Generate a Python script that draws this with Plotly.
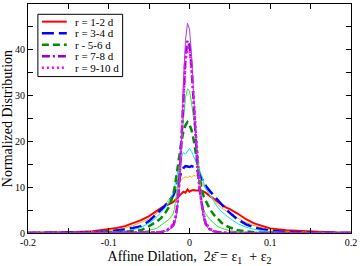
import plotly.graph_objects as go

# shared x grid (affine dilation)
x = [-0.2, -0.18, -0.16, -0.14, -0.12, -0.1, -0.09, -0.08, -0.07, -0.06,
     -0.05, -0.045, -0.04, -0.035, -0.03, -0.025, -0.02, -0.0175, -0.015, -0.0125,
     -0.01, -0.0075, -0.005, -0.0025, 0.0, 0.0025, 0.005, 0.0075, 0.01, 0.0125,
     0.015, 0.0175, 0.02, 0.025, 0.03, 0.035, 0.04, 0.045, 0.05, 0.06,
     0.07, 0.08, 0.09, 0.1, 0.12, 0.14, 0.16, 0.18, 0.2]

r_1_2 = [0.02, 0.05, 0.1, 0.2, 0.4, 0.8, 1.1, 1.5, 2.1, 2.8,
         3.7, 4.3, 5.0, 5.5, 6.0, 6.3, 6.8, 7.3, 7.8, 8.3,
         8.6, 9.0, 8.8, 9.5, 9.0, 9.3, 9.4, 9.3, 9.3, 9.2,
         9.3, 9.0, 8.8, 8.1, 7.4, 6.7, 6.2, 5.6, 5.2, 4.2,
         3.0, 2.1, 1.5, 1.0, 0.6, 0.4, 0.2, 0.1, 0.05]

r_2_3 = [0.0, 0.02, 0.05, 0.1, 0.25, 0.5, 0.75, 1.1, 1.6, 2.3,
         3.1, 3.7, 4.3, 5.0, 6.3, 7.5, 8.6, 9.5, 10.3, 11.0,
         11.6, 12.0, 12.3, 12.1, 12.4, 12.2, 12.6, 12.4, 12.8, 12.0,
         11.2, 10.3, 9.6, 8.4, 7.2, 6.2, 5.4, 4.8, 4.3, 3.2,
         2.3, 1.6, 1.1, 0.7, 0.35, 0.2, 0.1, 0.04, 0.02]

r_3_4 = [0.0, 0.01, 0.03, 0.06, 0.15, 0.35, 0.5, 0.75, 1.1, 1.5,
         2.6, 3.4, 4.4, 5.2, 6.0, 7.0, 8.2, 9.3, 10.6, 12.2,
         13.4, 14.2, 14.6, 14.5, 14.4, 14.6, 14.5, 14.3, 13.6, 12.8,
         11.8, 11.1, 10.3, 9.2, 8.2, 7.1, 6.2, 5.2, 4.4, 2.9,
         1.9, 1.2, 0.8, 0.5, 0.25, 0.12, 0.06, 0.03, 0.01]

r_4_5 = [0.0, 0.0, 0.01, 0.03, 0.08, 0.2, 0.3, 0.45, 0.7, 1.2,
         2.2, 2.8, 3.6, 4.5, 5.5, 7.0, 8.8, 11.0, 13.5, 15.2,
         16.6, 17.6, 17.2, 18.0, 18.5, 17.8, 16.8, 16.0, 14.8, 13.6,
         12.6, 11.0, 9.8, 8.3, 6.8, 5.6, 4.6, 3.8, 3.2, 2.0,
         1.3, 0.8, 0.5, 0.3, 0.12, 0.05, 0.02, 0.01, 0.0]

r_5_6 = [0.0, 0.0, 0.0, 0.01, 0.03, 0.08, 0.12, 0.2, 0.35, 0.6,
         1.5, 2.0, 2.6, 3.3, 4.4, 5.8, 8.5, 10.8, 13.5, 17.0,
         20.0, 22.2, 23.5, 24.2, 23.6, 22.5, 20.5, 17.5, 14.5, 12.0,
         9.6, 8.0, 7.0, 5.3, 4.0, 3.0, 2.2, 1.6, 1.2, 0.6,
         0.3, 0.15, 0.08, 0.04, 0.02, 0.01, 0.0, 0.0, 0.0]

r_6_7 = [0.0, 0.0, 0.0, 0.0, 0.01, 0.02, 0.03, 0.05, 0.1, 0.2,
         0.5, 0.8, 1.1, 1.7, 2.3, 3.0, 4.2, 6.5, 10.0, 15.0,
         21.0, 26.0, 29.5, 31.5, 31.0, 28.5, 25.5, 21.5, 18.0, 12.5,
         7.5, 5.2, 4.2, 3.0, 2.1, 1.4, 1.0, 0.7, 0.5, 0.25,
         0.12, 0.06, 0.03, 0.02, 0.01, 0.0, 0.0, 0.0, 0.0]

r_7_8 = [0.0, 0.0, 0.0, 0.0, 0.0, 0.0, 0.0, 0.01, 0.02, 0.04,
         0.07, 0.1, 0.12, 0.2, 0.4, 0.8, 1.7, 3.0, 6.0, 11.0,
         19.5, 31.0, 38.5, 42.0, 41.0, 36.5, 29.5, 20.5, 14.0, 9.5,
         6.0, 3.6, 2.0, 0.8, 0.35, 0.18, 0.1, 0.05, 0.03, 0.01,
         0.0, 0.0, 0.0, 0.0, 0.0, 0.0, 0.0, 0.0, 0.0]

r_8_9 = [0.0, 0.0, 0.0, 0.0, 0.0, 0.0, 0.0, 0.0, 0.01, 0.02,
         0.05, 0.08, 0.12, 0.2, 0.35, 0.7, 1.5, 2.6, 5.5, 10.5,
         20.0, 33.0, 42.0, 45.8, 44.5, 39.0, 31.0, 21.0, 14.0, 9.0,
         5.5, 3.2, 1.7, 0.7, 0.3, 0.15, 0.08, 0.05, 0.03, 0.01,
         0.0, 0.0, 0.0, 0.0, 0.0, 0.0, 0.0, 0.0, 0.0]

r_9_10 = [0.0, 0.0, 0.0, 0.0, 0.0, 0.0, 0.0, 0.01, 0.02, 0.05,
          0.08, 0.12, 0.15, 0.25, 0.5, 1.0, 2.0, 3.4, 6.5, 11.5,
          19.5, 30.0, 37.5, 40.5, 40.0, 36.0, 29.5, 21.0, 14.5, 10.0,
          6.5, 4.0, 2.3, 1.0, 0.45, 0.22, 0.12, 0.07, 0.04, 0.02,
          0.0, 0.0, 0.0, 0.0, 0.0, 0.0, 0.0, 0.0, 0.0]

x_tickvals = [-0.2, -0.1, 0.0, 0.1, 0.2]
x_ticktext = ["-0.2", "-0.1", "0", "0.1", "0.2"]
y_tickvals = [0, 10, 20, 30, 40, 50]
y_ticktext = ["0", "10", "20", "30", "40", "50"]

series = [
    # (values, name, color, width, dash, in legend)
    (r_1_2, "r = 1-2 d", "#ff0000", 2, "solid", True),
    (r_2_3, "r = 2-3 d", "#ffa500", 1, "solid", False),
    (r_3_4, "r = 3-4 d", "#0000ff", 2.5, "12px,5px", True),
    (r_4_5, "r = 4-5 d", "#00e5ff", 1, "solid", False),
    (r_5_6, "r - 5-6 d", "#008b00", 2.5, "7px,4px", True),
    (r_6_7, "r = 6-7 d", "#22ee22", 1, "solid", False),
    (r_7_8, "r = 7-8 d", "#9400d3", 2.5, "8px,3px,2px,3px", True),
    (r_8_9, "r = 8-9 d", "#a040e0", 1, "solid", False),
    (r_9_10, "r = 9-10 d", "#ff00ff", 2.5, "2px,3px", True),
]

fig = go.Figure()
for vals, name, color, w, dash, leg in series:
    fig.add_trace(go.Scatter(x=x, y=vals, mode="lines", name=name,
                             showlegend=False,
                             line=dict(color=color, width=w, dash=dash)))

# compact boxed legend (Grace style), placed in plot-area (paper) coordinates
leg_box = dict(x0=0.0306, x1=0.293, y0=0.683, y1=0.955)
leg_rows = [0.923, 0.8726, 0.822, 0.7717, 0.7217]
fig.add_shape(type="rect", xref="paper", yref="paper", **leg_box,
              line=dict(color="black", width=1), fillcolor="white", layer="above")
legend_entries = [s for s in series if s[5]]
for (vals, name, color, w, dash, leg), yr in zip(legend_entries, leg_rows):
    fig.add_shape(type="line", xref="paper", yref="paper",
                  x0=0.043, x1=0.12, y0=yr, y1=yr, layer="above",
                  line=dict(color=color, width=w, dash=dash))
    fig.add_annotation(xref="paper", yref="paper", x=0.14, y=yr,
                       xanchor="left", yanchor="middle", text=name,
                       showarrow=False, font=dict(size=11))

fig.update_layout(
    width=360, height=266,
    margin=dict(l=26, r=7, t=3, b=33),
    paper_bgcolor="white", plot_bgcolor="white",
    font=dict(family="Liberation Serif", color="black", size=10),
    showlegend=False,
)
fig.update_xaxes(range=[-0.2, 0.2], tickvals=x_tickvals, ticktext=x_ticktext,
                 ticks="inside", ticklen=5, tickcolor="black",
                 minor=dict(tickvals=[-0.15, -0.05, 0.05, 0.15], ticks="inside",
                            ticklen=5, tickcolor="black", showgrid=False),
                 showline=True, linecolor="black", linewidth=1, mirror="ticks",
                 showgrid=False, zeroline=False, tickfont=dict(size=10),
                 title=dict(text="Affine Dilation,\u00a0 2\u03b5\u0304 = \u03b5<sub>1</sub>\u00a0 + \u03b5<sub>2</sub>",
                            font=dict(size=14), standoff=4))
fig.update_yaxes(range=[0, 50], tickvals=y_tickvals, ticktext=y_ticktext,
                 ticks="inside", ticklen=5, tickcolor="black",
                 minor=dict(tickvals=[5, 15, 25, 35, 45], ticks="inside",
                            ticklen=5, tickcolor="black", showgrid=False),
                 showline=True, linecolor="black", linewidth=1, mirror="ticks",
                 showgrid=False, zeroline=False, tickfont=dict(size=10),
                 title=dict(text="Normalized Distribution", font=dict(size=14), standoff=2))

fig.write_html("out.html", config={"displayModeBar": False},
               post_script="document.body.style.margin='0';")
